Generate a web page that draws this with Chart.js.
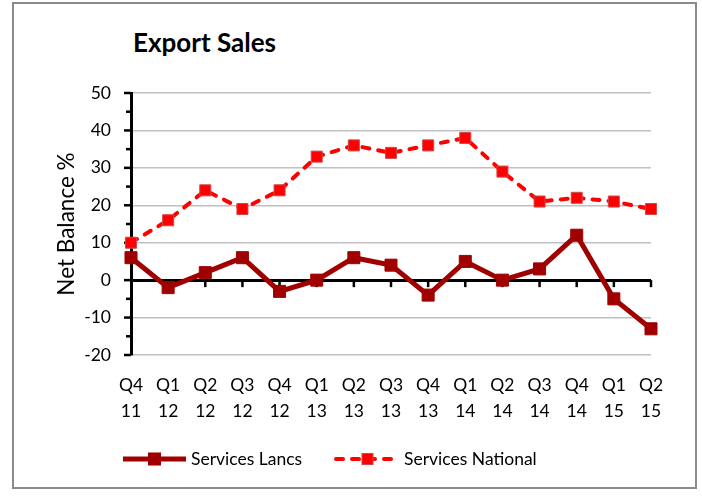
<!DOCTYPE html>
<html lang="en">
<head>
    <meta charset="UTF-8">
    <title>Export Sales</title>
    <script src="https://cdn.jsdelivr.net/npm/chart.js"></script>
    <style>
        html, body { margin: 0; padding: 0; background: #fff; }
        .frame {
            position: absolute;
            left: 12px; top: 2px;
            width: 681px; height: 483px;
            border: 2px solid #8a8a8a;
        }
        .chart-title {
            position: absolute;
            left: 133px; top: 26px;
            font-family: Lato, "Open Sans", sans-serif;
            font-weight: bold;
            font-size: 26px;
            color: #000;
        }
        #salesChart { position: absolute; left: 0; top: 0; }
    </style>
</head>
<body>
    <div class="frame"></div>
    <div class="chart-title">Export Sales</div>
    <canvas id="salesChart" width="702" height="498"></canvas>

    <script>
        // quarters, shown as two-line labels
        const quarters = ['Q4', 'Q1', 'Q2', 'Q3', 'Q4', 'Q1', 'Q2', 'Q3', 'Q4', 'Q1', 'Q2', 'Q3', 'Q4', 'Q1', 'Q2'];
        const years = ['11', '12', '12', '12', '12', '13', '13', '13', '13', '14', '14', '14', '14', '15', '15'];

        // net balance %
        const servicesLancs = [6, -2, 2, 6, -3, 0, 6, 4, -4, 5, 0, 3, 12, -5, -13];
        const servicesNational = [10, 16, 24, 19, 24, 33, 36, 34, 36, 38, 29, 21, 22, 21, 19];

        const labels = quarters.map((q, i) => [q, years[i]]);
        const FONT = 'Lato, "Open Sans", sans-serif';

        // axis ticks: minor/major ticks on the y axis, category ticks under the zero line
        const axisTicks = {
            id: 'axisTicks',
            beforeDatasetsDraw(chart) {
                const ctx = chart.ctx;
                const x = chart.scales.x, y = chart.scales.y;
                const area = chart.chartArea;
                ctx.save();
                ctx.strokeStyle = '#000';
                ctx.lineWidth = 2.5;
                for (let v = y.min; v <= y.max; v += 5) {
                    const py = y.getPixelForValue(v);
                    const len = v % 10 === 0 ? 7 : 5;
                    ctx.beginPath();
                    ctx.moveTo(area.left - len, py);
                    ctx.lineTo(area.left, py);
                    ctx.stroke();
                }
                const zero = y.getPixelForValue(0);
                for (let i = 1; i < labels.length; i++) {
                    const px = x.getPixelForValue(i);
                    ctx.beginPath();
                    ctx.moveTo(px, zero);
                    ctx.lineTo(px, zero + 7);
                    ctx.stroke();
                }
                ctx.restore();
            }
        };

        // legend with line sample and marker, like the series are drawn
        const lineLegend = {
            id: 'lineLegend',
            afterDraw(chart) {
                const ctx = chart.ctx;
                const items = [
                    { ds: chart.data.datasets[0], x1: 123, x2: 186, tx: 191 },
                    { ds: chart.data.datasets[1], x1: 336, x2: 399, tx: 404 }
                ];
                const yy = 459;
                ctx.save();
                items.forEach(it => {
                    const ds = it.ds;
                    ctx.strokeStyle = ds.borderColor;
                    ctx.lineWidth = ds.borderWidth;
                    ctx.lineCap = ds.borderCapStyle || 'butt';
                    ctx.setLineDash(ds.borderDash || []);
                    ctx.beginPath();
                    ctx.moveTo(it.x1, yy);
                    ctx.lineTo(it.x2, yy);
                    ctx.stroke();
                    ctx.setLineDash([]);
                    const s = ds.pointRadius * Math.SQRT1_2;
                    const cx = (it.x1 + it.x2) / 2;
                    ctx.fillStyle = ds.pointBackgroundColor;
                    ctx.fillRect(cx - s, yy - s, 2 * s, 2 * s);
                    ctx.strokeStyle = ds.pointBorderColor;
                    ctx.lineWidth = 1;
                    ctx.strokeRect(cx - s, yy - s, 2 * s, 2 * s);
                    ctx.fillStyle = '#000';
                    ctx.font = '17.5px ' + FONT;
                    ctx.textBaseline = 'middle';
                    ctx.fillText(ds.label, it.tx, yy);
                });
                ctx.restore();
            }
        };

        new Chart(document.getElementById('salesChart'), {
            type: 'line',
            data: {
                labels: labels,
                datasets: [{
                    label: 'Services Lancs',
                    data: servicesLancs,
                    borderColor: '#a00000',
                    borderWidth: 5,
                    pointStyle: 'rect',
                    pointRadius: 8.5,
                    pointBackgroundColor: '#a00000',
                    pointBorderColor: '#a00000',
                    pointBorderWidth: 1,
                    tension: 0,
                    clip: false
                }, {
                    label: 'Services National',
                    data: servicesNational,
                    borderColor: '#ff0000',
                    borderWidth: 4,
                    borderDash: [7, 9],
                    borderCapStyle: 'round',
                    pointStyle: 'rect',
                    pointRadius: 7.8,
                    pointBackgroundColor: '#ff0000',
                    pointBorderColor: '#d04848',
                    pointBorderWidth: 1,
                    tension: 0,
                    clip: false
                }]
            },
            options: {
                responsive: false,
                animation: false,
                layout: { padding: { top: 93, left: 13, right: 51, bottom: 0 } },
                plugins: {
                    legend: { display: false },
                    tooltip: { enabled: false }
                },
                scales: {
                    x: {
                        offset: false,
                        grid: { display: false },
                        border: { display: false },
                        ticks: {
                            color: '#000',
                            padding: 10,
                            maxRotation: 0,
                            autoSkip: false,
                            font: { family: FONT, size: 17.5, lineHeight: 1.45 }
                        },
                        afterFit(scale) { scale.height = 143; }
                    },
                    y: {
                        min: -20,
                        max: 50,
                        ticks: {
                            stepSize: 10,
                            color: '#000',
                            padding: 20,
                            font: { family: FONT, size: 17.5 }
                        },
                        grid: {
                            drawTicks: false,
                            color: c => c.tick && c.tick.value === 0 ? '#000' : '#c0c0c0',
                            lineWidth: c => c.tick && c.tick.value === 0 ? 3 : 1.5
                        },
                        border: { display: true, color: '#000', width: 3 },
                        title: {
                            display: true,
                            text: 'Net Balance %',
                            color: '#000',
                            padding: { top: 40, bottom: 0 },
                            font: { family: FONT, size: 22.5 }
                        },
                        afterFit(scale) { scale.width = 118; }
                    }
                }
            },
            plugins: [axisTicks, lineLegend]
        });
    </script>
</body>
</html>
